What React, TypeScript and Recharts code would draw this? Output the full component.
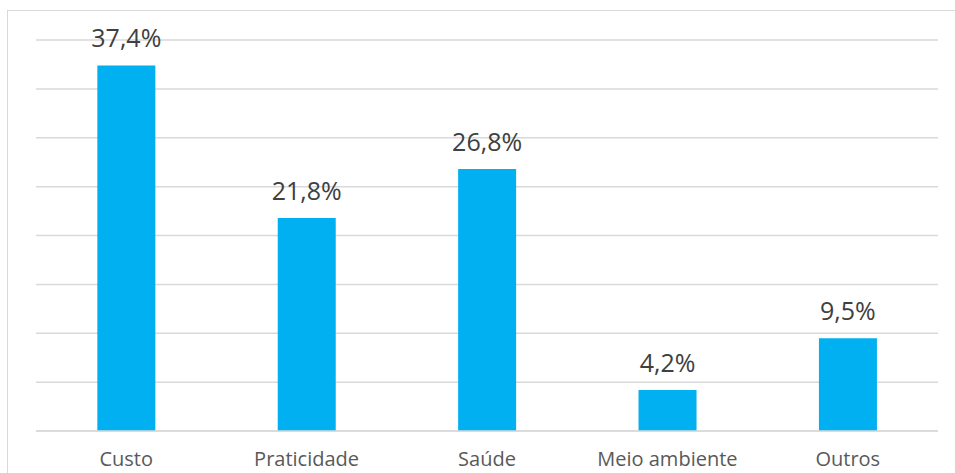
import { BarChart, Bar, XAxis, YAxis, CartesianGrid, LabelList } from 'recharts';

const categories = ['Custo', 'Praticidade', 'Saúde', 'Meio ambiente', 'Outros'];
const values = [37.4, 21.8, 26.8, 4.2, 9.5];
const yTicks = [0, 5, 10, 15, 20, 25, 30, 35, 40];

const data = categories.map((name, i) => ({ name, value: values[i] }));

const fmt = (v: number) => `${v.toFixed(1).replace('.', ',')}%`;

export default function App() {
  return (
    <div
      style={{
        position: 'fixed',
        left: 0,
        top: 0,
        width: 955,
        height: 473,
        overflow: 'hidden',
        background: '#fff',
        fontFamily: '"Open Sans", sans-serif',
      }}
    >
      <div
        style={{
          position: 'absolute',
          left: 7,
          top: 10,
          width: 1000,
          height: 600,
          border: '1px solid #d9d9d9',
          boxSizing: 'border-box',
        }}
      />
      <div style={{ position: 'absolute', left: 0, top: 0 }}>
        <BarChart
          width={955}
          height={473}
          data={data}
          margin={{ top: 40, right: 17, bottom: 0, left: 36 }}
          barCategoryGap="34%"
        >
          <CartesianGrid vertical={false} stroke="#d9d9d9" strokeWidth={1.5} />
          <YAxis hide domain={[0, 40]} ticks={yTicks} />
          <XAxis
            dataKey="name"
            height={42}
            tickLine={false}
            tickSize={0}
            tickMargin={21}
            axisLine={{ stroke: '#d9d9d9', strokeWidth: 1.5 }}
            tick={{ fontSize: 20, fill: '#595959' }}
            interval={0}
          />
          <Bar dataKey="value" fill="#00b0f0" isAnimationActive={false}>
            <LabelList
              dataKey="value"
              position="top"
              offset={18}
              formatter={(v: any) => fmt(Number(v))}
              style={{ fontSize: 25, fill: '#404040' }}
            />
          </Bar>
        </BarChart>
      </div>
    </div>
  );
}
